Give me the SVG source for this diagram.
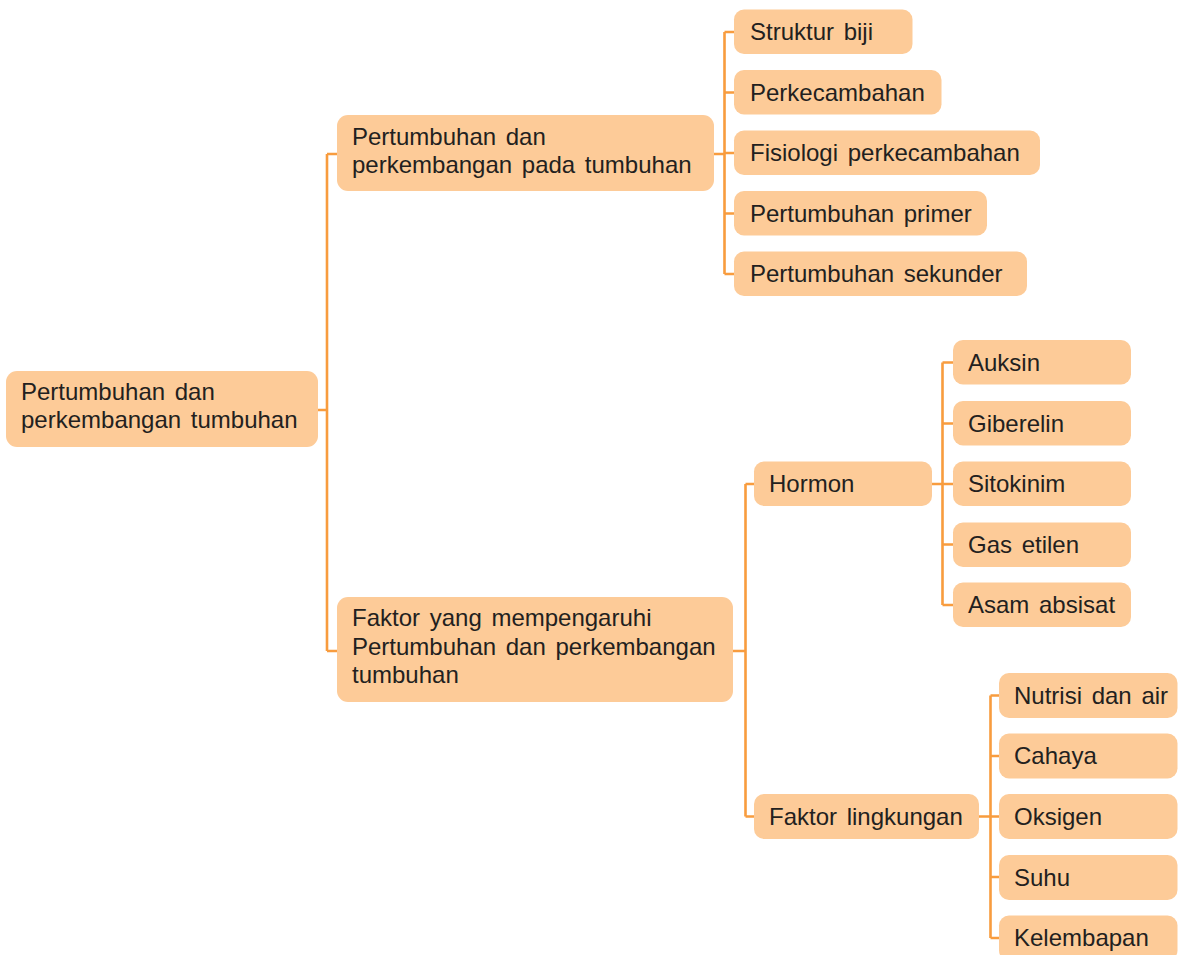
<svg xmlns="http://www.w3.org/2000/svg" width="1181" height="955" viewBox="0 0 1181 955">
<style>
.box{fill:#FDCB98;}
.t{font-family:"Liberation Sans",Arial,Helvetica,sans-serif;font-size:24px;fill:#231F20;word-spacing:3px;}
.c{fill:none;stroke:#F89C3E;stroke-width:2.6;}
</style>
<rect x="0" y="0" width="1181" height="955" fill="#FFFFFF"/>
<g id="connectors">
<path class="c" d="M318 410H327M327 154V651M327 154H337M327 651H337"/>
<path class="c" d="M714 154H724.5M724.5 32V274M724.5 32H734M724.5 92.5H734M724.5 153H734M724.5 213.5H734M724.5 274H734"/>
<path class="c" d="M733 651H745.5M745.5 484V816.5M745.5 484H754M745.5 816.5H754"/>
<path class="c" d="M932 484H942.5M942.5 362.5V605M942.5 362.5H953M942.5 423.5H953M942.5 484H953M942.5 544.5H953M942.5 605H953"/>
<path class="c" d="M979 816.5H990.5M990.5 695.5V938M990.5 695.5H999M990.5 756H999M990.5 816.5H999M990.5 877H999M990.5 938H999"/>
</g>
<g id="root">
<rect class="box" x="6" y="371" width="312" height="76" rx="11"/>
<text class="t" x="21" y="400">Pertumbuhan dan</text>
<text class="t" x="21" y="428">perkembangan tumbuhan</text>
</g>
<g id="pertumbuhan-tumbuhan">
<rect class="box" x="337" y="115" width="377" height="76" rx="11"/>
<text class="t" x="352" y="145">Pertumbuhan dan</text>
<text class="t" x="352" y="173">perkembangan pada tumbuhan</text>
</g>
<g id="struktur-biji">
<rect class="box" x="734" y="9.5" width="178.5" height="44.5" rx="10"/>
<text class="t" x="750" y="40">Struktur biji</text>
</g>
<g id="perkecambahan">
<rect class="box" x="734" y="70" width="207.5" height="44.5" rx="10"/>
<text class="t" x="750" y="100.5">Perkecambahan</text>
</g>
<g id="fisiologi">
<rect class="box" x="734" y="130.5" width="306" height="44.5" rx="10"/>
<text class="t" x="750" y="161">Fisiologi perkecambahan</text>
</g>
<g id="primer">
<rect class="box" x="734" y="191" width="253" height="44.5" rx="10"/>
<text class="t" x="750" y="221.5">Pertumbuhan primer</text>
</g>
<g id="sekunder">
<rect class="box" x="734" y="251.5" width="293" height="44.5" rx="10"/>
<text class="t" x="750" y="282">Pertumbuhan sekunder</text>
</g>
<g id="faktor">
<rect class="box" x="337" y="597" width="396" height="105" rx="11"/>
<text class="t" x="352" y="626">Faktor yang mempengaruhi</text>
<text class="t" x="352" y="655">Pertumbuhan dan perkembangan</text>
<text class="t" x="352" y="683">tumbuhan</text>
</g>
<g id="hormon">
<rect class="box" x="754" y="461.5" width="178" height="44.5" rx="10"/>
<text class="t" x="769" y="492">Hormon</text>
</g>
<g id="auksin">
<rect class="box" x="953" y="340" width="178" height="44.5" rx="10"/>
<text class="t" x="968" y="370.5">Auksin</text>
</g>
<g id="giberelin">
<rect class="box" x="953" y="401" width="178" height="44.5" rx="10"/>
<text class="t" x="968" y="431.5">Giberelin</text>
</g>
<g id="sitokinim">
<rect class="box" x="953" y="461.5" width="178" height="44.5" rx="10"/>
<text class="t" x="968" y="492">Sitokinim</text>
</g>
<g id="gas-etilen">
<rect class="box" x="953" y="522.5" width="178" height="44.5" rx="10"/>
<text class="t" x="968" y="553">Gas etilen</text>
</g>
<g id="asam-absisat">
<rect class="box" x="953" y="582.5" width="178" height="44.5" rx="10"/>
<text class="t" x="968" y="613">Asam absisat</text>
</g>
<g id="faktor-lingkungan">
<rect class="box" x="754" y="794" width="225" height="45" rx="10"/>
<text class="t" x="769" y="824.5">Faktor lingkungan</text>
</g>
<g id="nutrisi">
<rect class="box" x="999" y="673" width="178.5" height="45" rx="10"/>
<text class="t" x="1014" y="703.5">Nutrisi dan air</text>
</g>
<g id="cahaya">
<rect class="box" x="999" y="733.5" width="178.5" height="45" rx="10"/>
<text class="t" x="1014" y="764">Cahaya</text>
</g>
<g id="oksigen">
<rect class="box" x="999" y="794" width="178.5" height="45" rx="10"/>
<text class="t" x="1014" y="824.5">Oksigen</text>
</g>
<g id="suhu">
<rect class="box" x="999" y="855" width="178.5" height="45" rx="10"/>
<text class="t" x="1014" y="885.5">Suhu</text>
</g>
<g id="kelembapan">
<rect class="box" x="999" y="915.5" width="178.5" height="45" rx="10"/>
<text class="t" x="1014" y="946">Kelembapan</text>
</g>
</svg>
